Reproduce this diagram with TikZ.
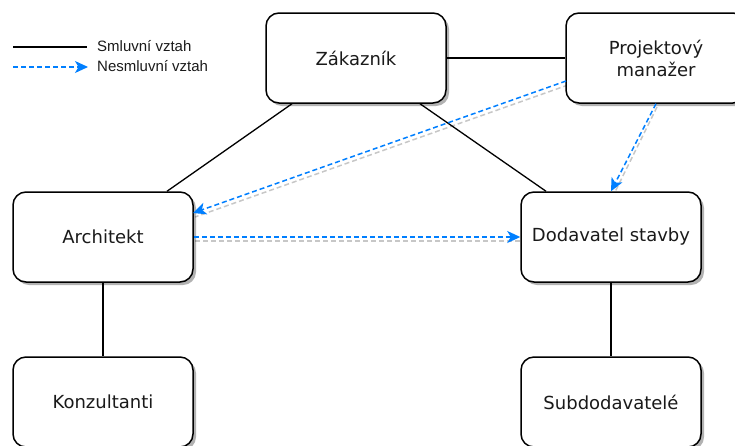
\documentclass[tikz,border=0pt]{standalone}
\usepackage{fontspec}
\setmainfont{DejaVu Sans}
\newfontfamily\legendfont{Liberation Sans}
\usetikzlibrary{arrows.meta,shadows,calc}
\definecolor{relblue}{RGB}{0,127,255}
\definecolor{inktext}{RGB}{26,26,26}

\tikzset{
  entity/.style={draw=black, line width=1.5pt, rounded corners=13pt, fill=white,
    minimum width=180pt, minimum height=90pt, inner sep=0pt, align=center,
    text=inktext, font=\fontsize{18}{22}\selectfont,
    drop shadow={shadow xshift=3pt, shadow yshift=-3pt, opacity=0.3, fill=black}},
  contract/.style={draw=black, line width=1.3pt},
  informal/.style={draw=relblue, line width=1.5pt, dash pattern=on 5pt off 3pt,
    -{Stealth[length=13pt, width=12pt, inset=3.5pt]}},
  informalshadow/.style={draw=black!22, line width=1.5pt, dash pattern=on 5pt off 3pt,
    transform canvas={shift={(2pt,-4pt)}}},
  legendtext/.style={anchor=west, inner sep=0pt, text=inktext,
    font=\legendfont\fontsize{15}{18}\selectfont}
}

\begin{document}
\begin{tikzpicture}[x=1pt, y=-1pt]
  \useasboundingbox (0,0) rectangle (735,445);
  \clip (0,0) rectangle (735,445);

  % legend
  \coordinate (l1a) at (13,47);
  \coordinate (l1b) at (87,47);
  \coordinate (l2a) at (13,67);
  \coordinate (l2b) at (88,67);
  \draw[contract, line width=1.2pt] (l1a) -- (l1b);
  \draw[informal, line width=1.2pt] (l2a) -- (l2b);
  \node[legendtext] (leg1) at (97,46) {Smluvní vztah};
  \node[legendtext] (leg2) at (97,66) {Nesmluvní vztah};

  % non-contractual relation shadows, below the boxes
  \coordinate (pmout) at (566,81);
  \coordinate (archin) at (193,213);
  \draw[informalshadow] (pmout) -- (archin);
  \draw[informalshadow] (655,103) -- (611,192);
  \draw[informalshadow] (193,237) -- (521,237);

  % parties
  \node[entity] (zak) at (356,58) {Zákazník};
  \node[entity] (pm)  at (656,58) {Projektový\\manažer};
  \node[entity] (arch) at (103,237) {Architekt};
  \node[entity] (dod) at (611,237) {Dodavatel stavby};
  \node[entity] (kon) at (103,402) {Konzultanti};
  \node[entity] (sub) at (611,402) {Subdodavatelé};

  % contractual relations
  \draw[contract] (zak.east) -- (pm.west);
  \draw[contract] ([xshift=-64pt]zak.south) -- ([xshift=64pt]arch.north);
  \draw[contract] ([xshift=64pt]zak.south) -- ([xshift=-65pt]dod.north);
  \draw[contract] (arch.south) -- (kon.north);
  \draw[contract] (dod.south) -- (sub.north);

  % non-contractual relations
  \draw[informal] (pmout) -- (archin);
  \draw[informal] (pm.south) -- (dod.north);
  \draw[informal] (arch.east) -- (dod.west);
\end{tikzpicture}
\end{document}
